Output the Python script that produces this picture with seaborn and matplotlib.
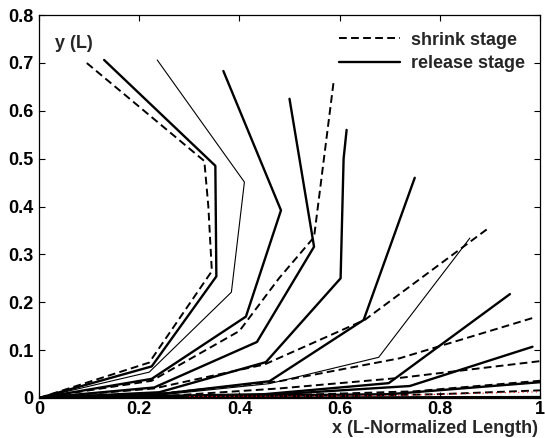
import matplotlib
matplotlib.use("Agg")
import matplotlib.pyplot as plt
from matplotlib.lines import Line2D
import seaborn as sns
import pandas as pd

# ---- data: interface profiles (x normalized length, y in L) ----
# shrink stage (dashed)
shrink_1_x = [0, 0.22, 0.345, 0.338, 0.33, 0.095]
shrink_1_y = [0, 0.074, 0.265, 0.40, 0.495, 0.70]
shrink_2_x = [0, 0.225, 0.40, 0.479, 0.549, 0.588]
shrink_2_y = [0, 0.036, 0.14, 0.25, 0.336, 0.66]
shrink_3_x = [0, 0.23, 0.45, 0.65, 0.90]
shrink_3_y = [0, 0.02, 0.07, 0.163, 0.357]
shrink_4_x = [0, 0.25, 0.48, 0.72, 0.985]
shrink_4_y = [0, 0.01, 0.035, 0.083, 0.167]
shrink_5_x = [0, 0.25, 0.48, 0.72, 1.0]
shrink_5_y = [0, 0.004, 0.02, 0.042, 0.077]
shrink_6_x = [0, 0.5, 0.75, 1.0]
shrink_6_y = [0, 0.006, 0.014, 0.036]
shrink_7_x = [0, 0.6, 0.8, 1.0]
shrink_7_y = [0, 0.004, 0.008, 0.016]

# release stage, thick solid
release_1_x = [0, 0.225, 0.354, 0.352, 0.13]
release_1_y = [0, 0.066, 0.254, 0.485, 0.706]
release_2_x = [0, 0.225, 0.413, 0.483, 0.368]
release_2_y = [0, 0.040, 0.170, 0.392, 0.683]
release_3_x = [0, 0.23, 0.435, 0.549, 0.50]
release_3_y = [0, 0.022, 0.117, 0.316, 0.625]
release_4_x = [0, 0.24, 0.453, 0.602, 0.608, 0.614]
release_4_y = [0, 0.012, 0.075, 0.25, 0.50, 0.56]
release_5_x = [0, 0.24, 0.46, 0.648, 0.75]
release_5_y = [0, 0.008, 0.035, 0.163, 0.46]
release_6_x = [0, 0.45, 0.698, 0.94]
release_6_y = [0, 0.008, 0.031, 0.217]
release_7_x = [0, 0.45, 0.74, 0.985]
release_7_y = [0, 0.006, 0.025, 0.107]
release_8_x = [0, 0.70, 1.0]
release_8_y = [0, 0.008, 0.033]
release_9_x = [0, 1.0]
release_9_y = [0, 0.002]

# release stage, thin solid
thin_1_x = [0, 0.22, 0.384, 0.41, 0.236]
thin_1_y = [0, 0.054, 0.221, 0.451, 0.706]
thin_2_x = [0, 0.23, 0.46, 0.678, 0.86]
thin_2_y = [0, 0.005, 0.03, 0.085, 0.334]

# faint red trace near the bottom
red_x = [0.30, 0.70, 1.0]
red_y = [0.003, 0.005, 0.013]

legend_labels = ["shrink stage", "release stage"]
x_ticks = [0, 0.2, 0.4, 0.6, 0.8, 1]
x_tick_labels = ["0", "0.2", "0.4", "0.6", "0.8", "1"]
y_ticks = [0, 0.1, 0.2, 0.3, 0.4, 0.5, 0.6, 0.7, 0.8]
y_tick_labels = ["0", "0.1", "0.2", "0.3", "0.4", "0.5", "0.6", "0.7", "0.8"]

sns.set_theme(style="ticks")
plt.rcParams["font.family"] = ["Liberation Sans", "DejaVu Sans"]
plt.rcParams["font.weight"] = "bold"

FS = 13

fig = plt.figure(figsize=(5.45, 4.38), dpi=100)
ax = fig.add_axes([39 / 545, 40 / 438, (540 - 39) / 545, (398 - 15) / 438])

def draw(xs, ys, lw, ls, color="black"):
    df = pd.DataFrame({"x": xs, "y": ys})
    sns.lineplot(data=df, x="x", y="y", sort=False, estimator=None, ax=ax,
                 color=color, linewidth=lw, linestyle=ls, clip_on=True)

dash_style = (0, (4, 2.2))
for xs, ys in [(shrink_1_x, shrink_1_y), (shrink_2_x, shrink_2_y), (shrink_3_x, shrink_3_y),
               (shrink_4_x, shrink_4_y), (shrink_5_x, shrink_5_y), (shrink_6_x, shrink_6_y),
               (shrink_7_x, shrink_7_y)]:
    draw(xs, ys, 1.4, dash_style)
for xs, ys in [(release_1_x, release_1_y), (release_2_x, release_2_y), (release_3_x, release_3_y),
               (release_4_x, release_4_y), (release_5_x, release_5_y), (release_6_x, release_6_y),
               (release_7_x, release_7_y), (release_8_x, release_8_y), (release_9_x, release_9_y)]:
    draw(xs, ys, 1.7, "-")
for xs, ys in [(thin_1_x, thin_1_y), (thin_2_x, thin_2_y)]:
    draw(xs, ys, 0.8, "-")
draw(red_x, red_y, 0.8, (0, (1, 3)), color="red")

ax.set_xlim(0, 1)
ax.set_ylim(0, 0.8)
ax.set_xticks(x_ticks)
ax.set_xticklabels(x_tick_labels)
ax.set_yticks(y_ticks)
ax.set_yticklabels(y_tick_labels)
ax.tick_params(direction="in", top=True, right=True, length=4, width=0.8,
               labelsize=FS, pad=4, colors="black")
ax.tick_params(axis="x", pad=2)
for lab in ax.get_xticklabels() + ax.get_yticklabels():
    lab.set_fontweight("bold")
for sp in ax.spines.values():
    sp.set_visible(True)
    sp.set_linewidth(0.9)
    sp.set_color("black")
ax.set_xlabel("")
ax.set_ylabel("")

ax.text(0.032, 0.74, "y (L)", fontsize=FS, fontweight="bold", ha="left", va="center")
fig.text(332 / 545, 1 - 437 / 438, "x (L-Normalized Length)", fontsize=FS,
         fontweight="bold", ha="left", va="bottom")

handles = [Line2D([0], [0], color="black", lw=1.4, linestyle=dash_style),
           Line2D([0], [0], color="black", lw=1.7, linestyle="-")]
ax.legend(handles, legend_labels, loc="upper right", frameon=False,
          prop={"weight": "bold", "size": FS}, handlelength=3.4, handletextpad=0.6,
          labelspacing=0.35, borderaxespad=0.0, bbox_to_anchor=(0.985, 0.975))

fig.savefig("out.png", dpi=100)
